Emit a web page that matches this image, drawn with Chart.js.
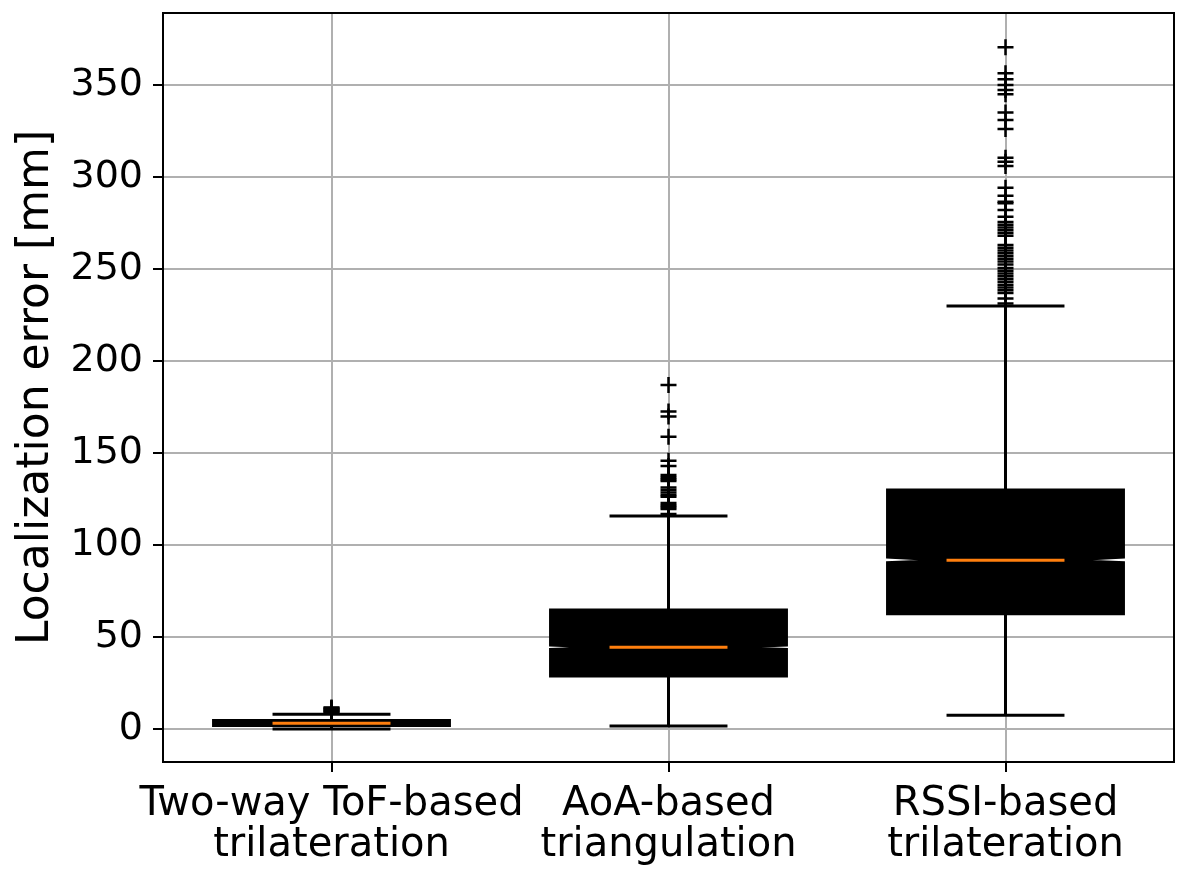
<!DOCTYPE html>
<html>
<head>
<meta charset="utf-8">
<script src="https://cdn.jsdelivr.net/npm/chart.js@4"></script>
<style>
html, body { margin: 0; padding: 0; background: #fff; }
</style>
</head>
<body>
<canvas id="errorBoxes" width="1187" height="870"></canvas>
<script>
// one entry per method
var categories = [
    ['Two-way ToF-based', 'trilateration'],
    ['AoA-based', 'triangulation'],
    ['RSSI-based', 'trilateration']
];
var whiskerLow  = [0.0, 1.6, 7.5];
var q1          = [1.9, 28.8, 62.6];
var median      = [3.1, 44.4, 91.7];
var q3          = [4.6, 64.7, 129.9];
var whiskerHigh = [8.0, 115.8, 229.9];
var notchLow    = [2.9, 43.3, 90.4];
var notchHigh   = [3.3, 45.7, 93.4];

var outliersToF = [8.9, 9.4, 9.9, 10.4, 10.9, 11.4, 11.7];
var outliersAoA = [116.8, 119.6, 120.6, 121.6, 122.8, 126.3, 127.2, 128.6, 129.9, 131.3,
    134.8, 135.8, 136.8, 138.0, 142.9, 145.8, 158.9, 169.8, 172.5, 187.0];
var outliersRSSI = [231.3, 234.0, 237.0, 238.5, 240.0, 241.5, 243.0, 244.5, 246.0, 247.5,
    249.0, 250.5, 252.5, 254.0, 255.5, 257.0, 258.5, 260.0, 261.5, 263.0,
    268.0, 269.5, 271.0, 272.5, 274.0, 275.5, 278.4, 282.0, 285.7, 286.6,
    289.8, 294.2, 306.0, 308.3, 310.5, 326.0, 331.0, 335.0, 345.0, 347.3,
    350.0, 353.1, 356.4, 370.5];

var yTicks = [0, 50, 100, 150, 200, 250, 300, 350];

var outlierPoints = [];
[outliersToF, outliersAoA, outliersRSSI].forEach(function (list, i) {
    list.forEach(function (v) {
        outlierPoints.push({ x: i + 1, y: v });
    });
});

var fontFamily = "'DejaVu Sans', sans-serif";

// matplotlib style notched boxes, drawn through the chart scales
var notchedBoxes = {
    id: 'notchedBoxes',
    beforeDatasetsDraw: function (chart) {
        var ctx = chart.ctx;
        var xs = chart.scales.x;
        var ys = chart.scales.y;
        var width = 0.7;
        ctx.save();
        for (var i = 0; i < categories.length; i++) {
            var pos = i + 1;
            var left = xs.getPixelForValue(pos - width / 2);
            var right = xs.getPixelForValue(pos + width / 2);
            var capL = xs.getPixelForValue(pos - width / 4);
            var capR = xs.getPixelForValue(pos + width / 4);
            var cx = xs.getPixelForValue(pos);

            ctx.strokeStyle = '#000';
            ctx.lineWidth = 3;
            // whiskers
            ctx.beginPath();
            ctx.moveTo(cx, ys.getPixelForValue(q1[i]));
            ctx.lineTo(cx, ys.getPixelForValue(whiskerLow[i]));
            ctx.moveTo(cx, ys.getPixelForValue(q3[i]));
            ctx.lineTo(cx, ys.getPixelForValue(whiskerHigh[i]));
            // caps
            ctx.moveTo(capL, ys.getPixelForValue(whiskerLow[i]));
            ctx.lineTo(capR, ys.getPixelForValue(whiskerLow[i]));
            ctx.moveTo(capL, ys.getPixelForValue(whiskerHigh[i]));
            ctx.lineTo(capR, ys.getPixelForValue(whiskerHigh[i]));
            ctx.stroke();

            // box with notch
            ctx.beginPath();
            ctx.moveTo(left, ys.getPixelForValue(q1[i]));
            ctx.lineTo(right, ys.getPixelForValue(q1[i]));
            ctx.lineTo(right, ys.getPixelForValue(notchLow[i]));
            ctx.lineTo(capR, ys.getPixelForValue(median[i]));
            ctx.lineTo(right, ys.getPixelForValue(notchHigh[i]));
            ctx.lineTo(right, ys.getPixelForValue(q3[i]));
            ctx.lineTo(left, ys.getPixelForValue(q3[i]));
            ctx.lineTo(left, ys.getPixelForValue(notchHigh[i]));
            ctx.lineTo(capL, ys.getPixelForValue(median[i]));
            ctx.lineTo(left, ys.getPixelForValue(notchLow[i]));
            ctx.closePath();
            ctx.fillStyle = '#000';
            ctx.fill();
            ctx.lineJoin = 'miter';
            ctx.stroke();

            // median
            ctx.beginPath();
            ctx.strokeStyle = '#ff7f0e';
            ctx.lineWidth = 3;
            ctx.moveTo(capL, ys.getPixelForValue(median[i]));
            ctx.lineTo(capR, ys.getPixelForValue(median[i]));
            ctx.stroke();
        }
        ctx.restore();
    },
    afterDraw: function (chart) {
        var a = chart.chartArea;
        var ctx = chart.ctx;
        ctx.save();
        ctx.strokeStyle = '#000';
        ctx.lineWidth = 2;
        ctx.strokeRect(a.left, a.top, a.right - a.left, a.bottom - a.top);
        ctx.restore();
    }
};

var opcionesBoxes = {
    responsive: false,
    animation: false,
    events: [],
    layout: { padding: { top: 13, right: 13, left: 0, bottom: 0 } },
    plugins: {
        legend: { display: false },
        tooltip: { enabled: false }
    },
    scales: {
        x: {
            type: 'linear',
            min: 0.5,
            max: 3.5,
            afterBuildTicks: function (s) {
                s.ticks = categories.map(function (c, i) { return { value: i + 1 }; });
            },
            afterFit: function (s) {
                s.height = 108;
                s.paddingLeft = 0;
                s.paddingRight = 0;
            },
            ticks: {
                callback: function (v) { return categories[v - 1]; },
                font: { family: fontFamily, size: 40, lineHeight: 1.02 },
                color: '#000',
                padding: 12,
                maxRotation: 0,
                autoSkip: false
            },
            grid: { color: '#b0b0b0', lineWidth: 2, tickColor: '#000', tickLength: 10, tickWidth: 2 },
            border: { color: '#000', width: 2 }
        },
        y: {
            type: 'linear',
            min: -17.9,
            max: 389.1,
            afterBuildTicks: function (s) {
                s.ticks = yTicks.map(function (v) { return { value: v }; });
            },
            afterFit: function (s) {
                s.width = 163;
                s.paddingTop = 0;
                s.paddingBottom = 0;
            },
            ticks: {
                font: { family: fontFamily, size: 38 },
                color: '#000',
                padding: 10
            },
            grid: { color: '#b0b0b0', lineWidth: 2, tickColor: '#000', tickLength: 10, tickWidth: 2 },
            border: { color: '#000', width: 2 },
            title: {
                display: true,
                text: 'Localization error [mm]',
                color: '#000',
                font: { family: fontFamily, size: 44 },
                padding: { top: 10 }
            }
        }
    }
};

var contextoBoxes = document.getElementById('errorBoxes').getContext('2d');

var graficoBoxes = new Chart(contextoBoxes, {
    type: 'scatter',
    data: {
        datasets: [{
            label: 'Outliers',
            data: outlierPoints,
            pointStyle: 'cross',
            pointRadius: 8,
            pointBorderWidth: 2.5,
            pointBorderColor: '#000',
            pointBackgroundColor: '#000'
        }]
    },
    options: opcionesBoxes,
    plugins: [notchedBoxes]
});
</script>
</body>
</html>
